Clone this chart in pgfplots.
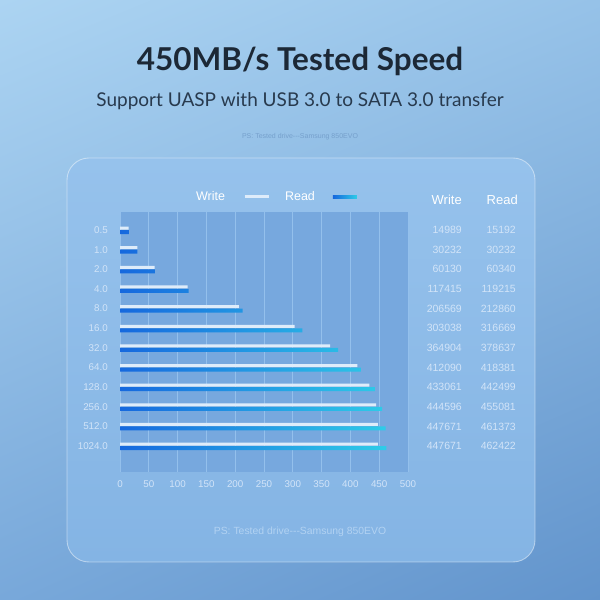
\documentclass[border=0pt]{standalone}
\usepackage{pgfplots}
\pgfplotsset{compat=1.18}
\usepackage{pgfplotstable}
\usetikzlibrary{shadings}
\usepackage{fontspec}
\setmainfont{Lato}
\newfontfamily\numfont{Liberation Sans}
\definecolor{bgUL}{RGB}{172,212,242}
\definecolor{bgUR}{RGB}{150,194,232}
\definecolor{bgLL}{RGB}{120,168,218}
\definecolor{bgLR}{RGB}{98,148,204}
\definecolor{panelT}{RGB}{150,194,236}
\definecolor{panelB}{RGB}{132,180,228}
\definecolor{plotbg}{RGB}{119,168,222}
\definecolor{gridcol}{RGB}{148,192,236}
\definecolor{ticklab}{RGB}{210,228,248}
\definecolor{titlecol}{RGB}{28,40,54}
\definecolor{subcol}{RGB}{40,58,78}
\definecolor{pscol}{RGB}{118,160,204}
\definecolor{pstwo}{RGB}{178,210,242}
\definecolor{writecol}{RGB}{222,236,250}
\definecolor{readL}{RGB}{22,104,222}
\definecolor{readR}{RGB}{46,204,232}
\definecolor{tablecol}{RGB}{210,228,248}

\pgfplotstableread{
idx wm rm w r
0 14.989 15.192 14989 15192
1 30.232 30.232 30232 30232
2 60.130 60.340 60130 60340
3 117.415 119.215 117415 119215
4 206.569 212.860 206569 212860
5 303.038 316.669 303038 316669
6 364.904 378.637 364904 378637
7 412.090 418.381 412090 418381
8 433.061 442.499 433061 442499
9 444.596 455.081 444596 455081
10 447.671 461.373 447671 461373
11 447.671 462.422 447671 462422
}\data

\begin{document}
\begin{tikzpicture}[x=1pt,y=1pt]
\shade[upper left=bgUL, upper right=bgUR, lower left=bgLL, lower right=bgLR] (0,0) rectangle (600,600);
\useasboundingbox (0,0) rectangle (600,600);
\shade[rounded corners=22pt, top color=panelT, bottom color=panelB] (67,38) rectangle (535,442);
\draw[rounded corners=22pt, white, opacity=0.45, line width=0.9pt] (67,38) rectangle (535,442);
\node[font=\fontsize{31.5}{36}\selectfont\bfseries, text=titlecol] at (300,539) {450MB/s Tested Speed};
\node[font=\fontsize{19}{23}\selectfont, text=subcol] at (300,499) {Support UASP with USB 3.0 to SATA 3.0 transfer};
\node[font=\numfont\fontsize{7}{8}\selectfont, text=pscol] at (300,463) {PS: Tested drive---Samsung 850EVO};
\node[font=\numfont\fontsize{10.4}{12}\selectfont, text=pstwo] at (300,68) {PS: Tested drive---Samsung 850EVO};
\node[anchor=east, inner sep=0pt, font=\numfont\fontsize{13}{14}\selectfont, text=white] at (462,400) {Write};
\node[anchor=east, inner sep=0pt, font=\numfont\fontsize{13}{14}\selectfont, text=white] at (518,400) {Read};
\begin{axis}[
  at={(120pt,128pt)}, anchor=south west, scale only axis,
  width=288pt, height=260pt,
  xmin=0, xmax=500, ymin=-0.92, ymax=12.32, y dir=reverse,
  clip=false,
  axis background/.style={fill=plotbg},
  axis line style={draw=none},
  major tick length=0pt,
  xtick={0,50,...,500},
  ytick={0,...,11},
  yticklabels={0.5,1.0,2.0,4.0,8.0,16.0,32.0,64.0,128.0,256.0,512.0,1024.0},
  /pgf/number format/assume math mode=true,
  xmajorgrids,
  grid style={draw=gridcol, line width=0.7pt},
  tick label style={text=ticklab, font=\numfont\fontsize{9.8}{11}\selectfont},
  yticklabel style={anchor=east, inner sep=0pt, xshift=-12pt},
  xticklabel style={anchor=north, inner sep=0pt, yshift=-8pt},
  legend plot pos=right,
  legend columns=2,
  legend style={at={(0.54,1)}, anchor=south, yshift=6pt, draw=none, fill=none,
    text=white, font=\numfont\fontsize{12.5}{13}\selectfont,
    /tikz/every odd column/.append style={column sep=16pt},
    /tikz/every even column/.append style={column sep=13pt}},
]
\addplot[xbar, bar width=3pt, bar shift=2pt, draw=none, fill=writecol,
  legend image code/.code={\draw[line width=3pt, writecol] (0pt,0pt) -- (24pt,0pt);}]
  table[x=wm, y=idx] {\data};
\addlegendentry{Write}
\addplot[xbar, bar width=4pt, bar shift=-2pt, draw=none, left color=readL, right color=readR,
  legend image code/.code={\shade[left color=readL, right color=readR] (0pt,-1.5pt) rectangle (24pt,1.5pt);}]
  table[x=rm, y=idx] {\data};
\addlegendentry{Read}
\addplot[draw=none, mark=none, nodes near coords, point meta=explicit symbolic,
  nodes near coords style={anchor=east, inner sep=0pt, text=tablecol, font=\numfont\fontsize{10.5}{12}\selectfont}, forget plot]
  table[x expr=593.75, y=idx, meta=w] {\data};
\addplot[draw=none, mark=none, nodes near coords, point meta=explicit symbolic,
  nodes near coords style={anchor=east, inner sep=0pt, text=tablecol, font=\numfont\fontsize{10.5}{12}\selectfont}, forget plot]
  table[x expr=687.5, y=idx, meta=r] {\data};
\end{axis}
\end{tikzpicture}
\end{document}
